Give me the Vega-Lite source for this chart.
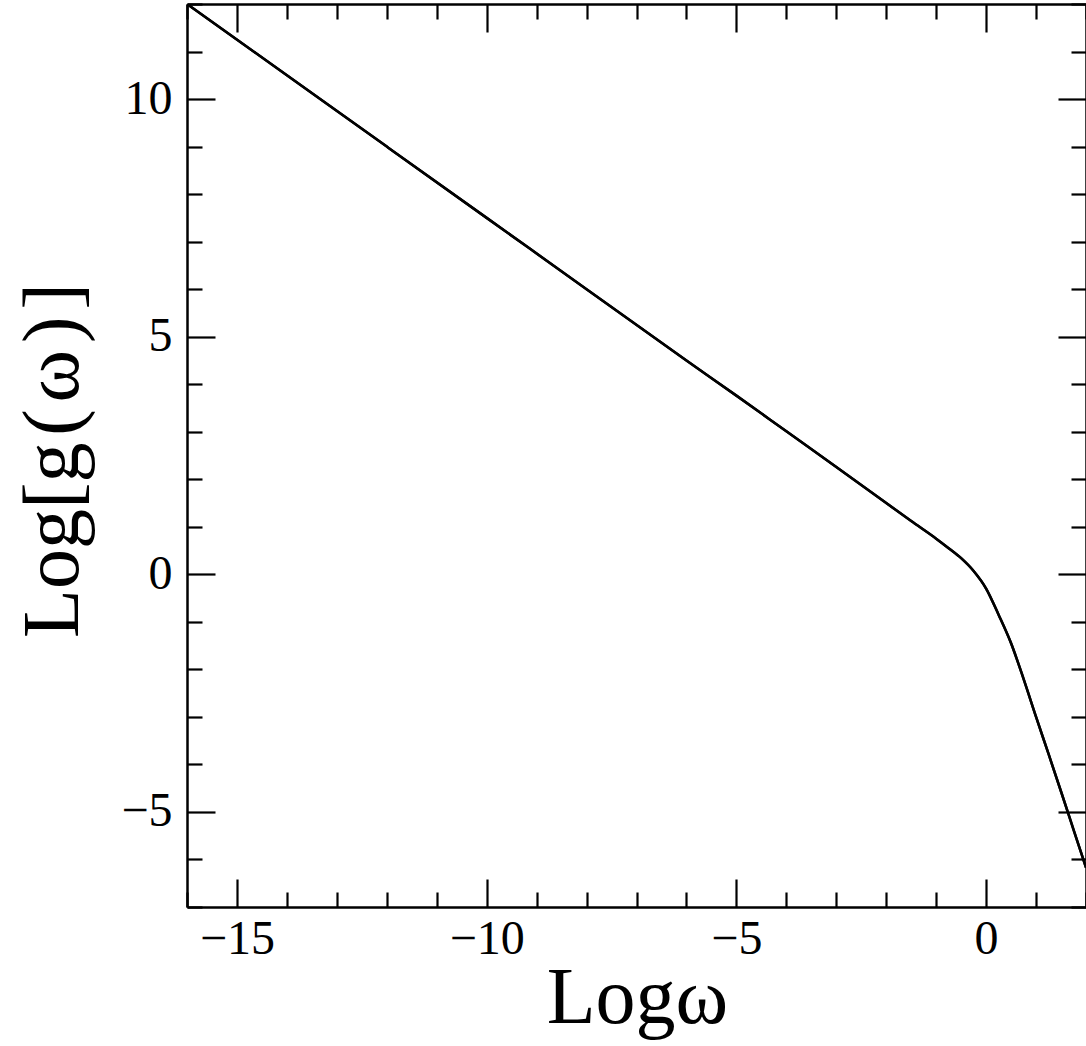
{
  "$schema": "https://vega.github.io/schema/vega-lite/v6.json",
  "width": 899,
  "height": 903,
  "autosize": "none",
  "padding": {"left": 187, "top": 4, "right": 0, "bottom": 139},
  "background": "white",
  "config": {
    "view": {"stroke": null},
    "axis": {
      "grid": false,
      "domainColor": "black",
      "domainWidth": 2.5,
      "tickColor": "black",
      "tickWidth": 2.2,
      "labelFont": "Liberation Serif",
      "labelFontSize": 48,
      "labelColor": "black",
      "titleFont": "Liberation Serif",
      "titleFontSize": 80,
      "titleFontWeight": "normal",
      "titleColor": "black"
    }
  },
  "data": {
    "values": [
      {"logw": -16, "logg": 12.0},
      {"logw": -14, "logg": 10.5},
      {"logw": -12, "logg": 9.0},
      {"logw": -10, "logg": 7.5},
      {"logw": -8, "logg": 6.0},
      {"logw": -6, "logg": 4.5},
      {"logw": -5, "logg": 3.76},
      {"logw": -4, "logg": 3.01},
      {"logw": -3, "logg": 2.26},
      {"logw": -2, "logg": 1.5},
      {"logw": -1.5, "logg": 1.12},
      {"logw": -1, "logg": 0.75},
      {"logw": -0.75, "logg": 0.55},
      {"logw": -0.5, "logg": 0.34},
      {"logw": -0.25, "logg": 0.07},
      {"logw": 0, "logg": -0.3},
      {"logw": 0.25, "logg": -0.85},
      {"logw": 0.5, "logg": -1.45},
      {"logw": 0.75, "logg": -2.2},
      {"logw": 1, "logg": -3.0},
      {"logw": 1.25, "logg": -3.78},
      {"logw": 1.5, "logg": -4.57},
      {"logw": 1.75, "logg": -5.37},
      {"logw": 2, "logg": -6.17}
    ]
  },
  "layer": [
    {
      "mark": {"type": "line", "color": "black", "strokeWidth": 2.5, "interpolate": "monotone", "clip": true},
      "encoding": {
        "x": {
          "field": "logw", "type": "quantitative",
          "scale": {"domain": [-16, 2], "nice": false, "zero": false},
          "axis": {
            "orient": "bottom",
            "values": [-16,-15,-14,-13,-12,-11,-10,-9,-8,-7,-6,-5,-4,-3,-2,-1,0,1,2],
            "tickSize": {"condition": {"test": "datum.value % 5 === 0", "value": -28}, "value": -15},
            "labelExpr": "datum.value % 5 === 0 ? datum.label : ''",
            "labelPadding": 36,
            "title": "Logω",
            "titleX": 450,
            "titleY": 115,
            "titleBaseline": "alphabetic"
          }
        },
        "y": {
          "field": "logg", "type": "quantitative",
          "scale": {"domain": [-7, 12], "nice": false, "zero": false},
          "axis": {
            "orient": "left",
            "values": [-7,-6,-5,-4,-3,-2,-1,0,1,2,3,4,5,6,7,8,9,10,11,12],
            "tickSize": {"condition": {"test": "datum.value % 5 === 0", "value": -28}, "value": -15},
            "labelExpr": "datum.value % 5 === 0 ? datum.label : ''",
            "labelPadding": 43,
            "title": "Log[g\u200a(\u200aω\u200a)\u200a]",
            "titleX": -110,
            "titleY": 456,
            "titleAngle": -90,
            "titleBaseline": "alphabetic"
          }
        }
      }
    },
    {
      "mark": {"type": "line", "color": "black", "strokeWidth": 2.5, "interpolate": "monotone", "clip": true},
      "encoding": {
        "x": {
          "field": "logw", "type": "quantitative",
          "scale": {"domain": [-16, 2], "nice": false, "zero": false},
          "axis": {
            "orient": "top",
            "values": [-16,-15,-14,-13,-12,-11,-10,-9,-8,-7,-6,-5,-4,-3,-2,-1,0,1,2],
            "tickSize": {"condition": {"test": "datum.value % 5 === 0", "value": -28}, "value": -15},
            "labels": false,
            "title": null
          }
        },
        "y": {
          "field": "logg", "type": "quantitative",
          "scale": {"domain": [-7, 12], "nice": false, "zero": false},
          "axis": {
            "orient": "right",
            "values": [-7,-6,-5,-4,-3,-2,-1,0,1,2,3,4,5,6,7,8,9,10,11,12],
            "tickSize": {"condition": {"test": "datum.value % 5 === 0", "value": -28}, "value": -15},
            "labels": false,
            "title": null
          }
        }
      }
    }
  ],
  "resolve": {"axis": {"x": "independent", "y": "independent"}}
}
